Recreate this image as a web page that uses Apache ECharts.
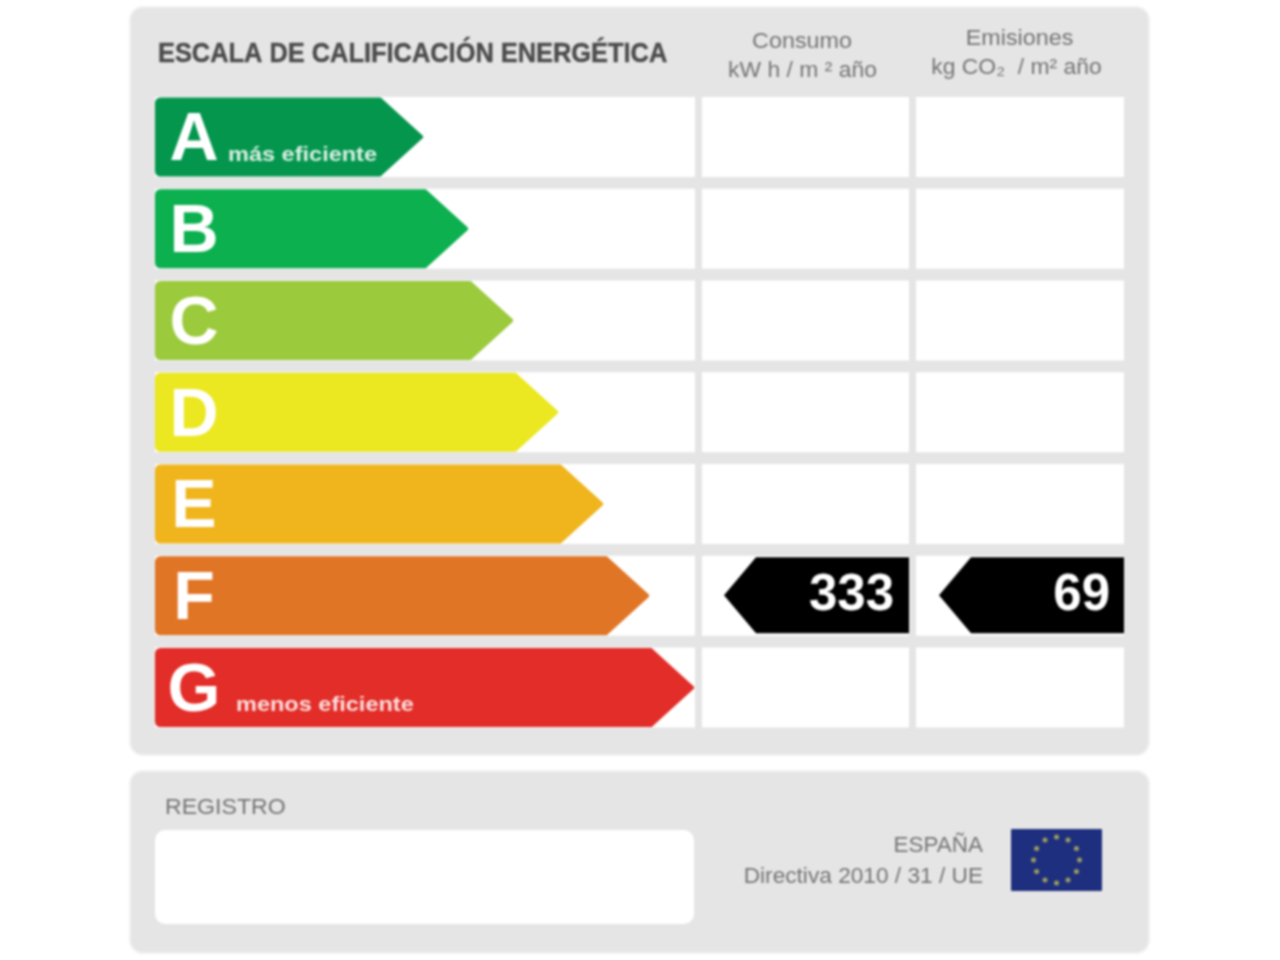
<!DOCTYPE html>
<html lang="es">
<head>
<meta charset="utf-8">
<title>Escala de calificación energética</title>
<script src="https://cdn.jsdelivr.net/npm/echarts@6/dist/echarts.min.js"></script>
<style>
html,body{margin:0;padding:0;background:#fff}
#chart{width:1280px;height:960px;filter:blur(1.1px)}
</style>
</head>
<body>
<div id="chart"></div>
<script>
const categories = ['A','B','C','D','E','F','G'];
const scaleLengths = [269,314,359,404,449,495,540];
const scaleNotes = ['más eficiente','','','','','','menos eficiente'];
const consumoValues = [null,null,null,null,null,333,null];
const emisionesValues = [null,null,null,null,null,69,null];
const title = 'ESCALA DE CALIFICACIÓN ENERGÉTICA';
const footerLabels = ['REGISTRO','ESPAÑA','Directiva 2010 / 31 / UE'];

const palette = ['#05964e','#0cb04f','#9bca3c','#ebe720','#f0b41c','#e07526','#e32d28'];
const FONT = '"Liberation Sans", Arial, sans-serif';
const HALF = 39.5, ROUND = 4, EDGE = 2;

function arrowPath(x0, x1, cy, h) {
  const t = cy - h, b = cy + h, r = ROUND, s = x1 - h * 1.1;
  return `M${x0 + r} ${t}L${s} ${t}L${x1} ${cy}L${s} ${b}L${x0 + r} ${b}Q${x0} ${b} ${x0} ${b - r}L${x0} ${t + r}Q${x0} ${t} ${x0 + r} ${t}Z`;
}
function tagPath(x0, x1, cy, h, head) {
  return `M${x1} ${cy - h}L${x0 + head} ${cy - h}L${x0} ${cy}L${x0 + head} ${cy + h}L${x1} ${cy + h}Z`;
}

/* white table cells, in x-axis units */
const columns = [[0,540],[547,754],[761,969]];
function renderCells(params, api) {
  const row = api.value(0);
  const c = api.coord([0, row])[1];
  return { type:'group', children: columns.map(col => {
    const a = api.coord([col[0], row])[0], b = api.coord([col[1], row])[0];
    return { type:'rect', shape:{x:a, y:c - HALF - 0.5, width:b - a, height:HALF * 2 + 1}, style:{fill:'#ffffff'} };
  })};
}
function renderScale(params, api) {
  const len = api.value(0), row = api.value(1);
  const p0 = api.coord([0, row]), p1 = api.coord([len, row]);
  const note = scaleNotes[row];
  const children = [
    { type:'path', shape:{pathData:arrowPath(p0[0] + EDGE, p1[0] - EDGE * 1.4, p0[1], HALF - EDGE)},
      style:{fill:palette[row], stroke:palette[row], lineWidth:EDGE * 2, lineJoin:'round'} },
    { type:'text', x:p0[0] + 39, y:p0[1] + 4.5, style:{text:categories[row], fill:'#fff', font:'bold 68px ' + FONT, textAlign:'center', textVerticalAlign:'middle'} }
  ];
  if (note) children.push({ type:'text', x:p0[0] + (row === 0 ? 73 : 81), y:p0[1] + 18, scaleX:1.12,
    style:{text:note, fill:'rgba(255,255,255,0.85)', font:'bold 21px ' + FONT, textAlign:'left', textVerticalAlign:'middle'} });
  return { type:'group', children };
}
function tagRenderer(colIndex, textRight) {
  return function (params, api) {
    const v = api.value(0), row = api.value(1);
    const col = columns[colIndex];
    const p1 = api.coord([col[1], row]);
    const x0 = p1[0] - 185;
    return { type:'group', children:[
      { type:'path', shape:{pathData:tagPath(x0, p1[0], p1[1] - 0.5, 38, 32)}, style:{fill:'#000'} },
      { type:'text', x:p1[0] - textRight, y:p1[1] + 0.5, style:{text:String(v), fill:'#fff', font:'bold 51px ' + FONT, textAlign:'right', textVerticalAlign:'middle'} }
    ]};
  };
}
function rowData(values) {
  return values.map((v, i) => v == null ? null : [v, i]).filter(Boolean);
}

/* decoration: panels, headers, footer */
const stars = [];
for (let k = 0; k < 12; k++) {
  const a = k * Math.PI / 6;
  stars.push({ type:'circle', shape:{cx:1056.5 + 23 * Math.cos(a), cy:860 + 23 * Math.sin(a), r:2.5}, style:{fill:'#9a9c5e'} });
}
function label(text, x, y, align, scaleX) {
  return { type:'text', x, y, scaleX, style:{text, fill:'#747474', font:'22px ' + FONT, textAlign:align, textVerticalAlign:'middle'} };
}
const decoration = [
  { type:'rect', shape:{x:130, y:7, width:1019, height:748, r:13}, style:{fill:'#e5e5e5', stroke:'#f1f1f1', lineWidth:2} },
  { type:'rect', shape:{x:130, y:771, width:1019, height:182, r:13}, style:{fill:'#e5e5e5', stroke:'#f1f1f1', lineWidth:2} },
  { type:'rect', shape:{x:155, y:830, width:539, height:94, r:10}, style:{fill:'#fff'} },
  { type:'rect', shape:{x:1011, y:829, width:91, height:62, r:1}, style:{fill:'#1f2f7f'} },
  ...stars,
  { type:'text', x:158, y:54, scaleY:1.12, style:{text:title, fill:'#4c4c4c', stroke:'#4c4c4c', lineWidth:0.4, font:'bold 25.4px ' + FONT, textAlign:'left', textVerticalAlign:'middle'} },
  label('Consumo', 802, 41.5, 'center', 1.06),
  label('kW h / m ² año', 802.5, 70.5, 'center', 1.04),
  label('Emisiones', 1019.5, 38.5, 'center', 1.06),
  label('kg CO₂  / m² año', 1016.5, 67.5, 'center', 1.04),
  label(footerLabels[0], 165, 807.5, 'left', 1.05),
  label(footerLabels[1], 983, 845.5, 'right', 1.02),
  label(footerLabels[2], 983, 876.5, 'right', 1.03)
];

const chart = echarts.init(document.getElementById('chart'), null, {renderer:'canvas', width:1280, height:960});
chart.setOption({
  animation:false,
  backgroundColor:'#fff',
  grid:{left:155, top:91, width:970, height:642.5, containLabel:false},
  xAxis:{type:'value', min:0, max:970, show:false},
  yAxis:{type:'category', data:categories, inverse:true, show:false},
  graphic:{elements:decoration},
  tooltip:{show:false},
  series:[
    { type:'custom', name:'cells', silent:true, renderItem:renderCells, encode:{y:0}, data:categories.map((c, i) => [i]), z:2 },
    { type:'custom', name:'Escala', silent:true, renderItem:renderScale, encode:{x:0, y:1}, data:scaleLengths.map((v, i) => [v, i]), z:3 },
    { type:'custom', name:'Consumo', silent:true, renderItem:tagRenderer(1, 15), encode:{y:1}, data:rowData(consumoValues), z:3 },
    { type:'custom', name:'Emisiones', silent:true, renderItem:tagRenderer(2, 14), encode:{y:1}, data:rowData(emisionesValues), z:3 }
  ]
});
</script>
</body>
</html>
